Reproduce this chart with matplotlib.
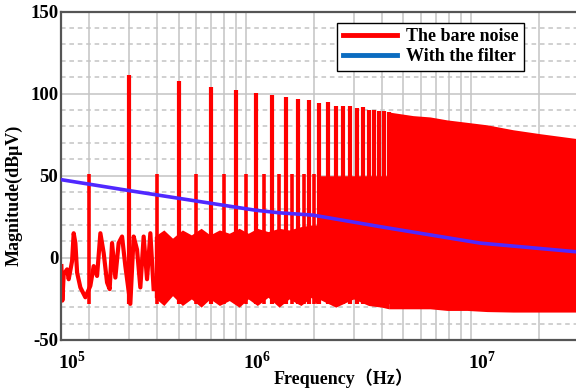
import numpy as np
import matplotlib
matplotlib.use('Agg')
import matplotlib.pyplot as plt
from matplotlib.lines import Line2D
from matplotlib.transforms import ScaledTranslation, blended_transform_factory

plt.rcParams['font.family'] = ['Liberation Serif', 'Noto Sans CJK SC']
plt.rcParams['font.weight'] = 'bold'
plt.rcParams['axes.unicode_minus'] = False
plt.rcParams['mathtext.fontset'] = 'custom'
plt.rcParams['mathtext.rm'] = 'Liberation Serif'
plt.rcParams['mathtext.bf'] = 'Liberation Serif:bold'

# low-frequency part of the bare noise (kHz, dBuV)
noise_khz = [150.6, 152.1, 154.2, 159.6, 162.3, 168.0, 170.8, 173.8, 176.9, 182.9,
             192.5, 202.6, 209.6, 217.0, 224.5, 232.2, 240.4, 246.9, 253.0, 261.7,
             270.7, 280.3, 289.9, 305.1, 315.6, 326.8, 338.0, 349.7, 362.0, 374.5, 387.3]
noise_db = [-5, -26, -10, -7, -13, -2, 15, 9, -9, -18,
            -24, -17, -5, -11, 15, 3, -15, -19, 9, -12,
            9, 13, -5, -28, 13, 5, -18, 13, -13, 15, -19]

# even harmonics (kHz) and their peaks
small_khz = [200, 400, 600, 800, 1000, 1200, 1400, 1600, 1800, 2000]
small_db = [51, 51, 51, 51, 51, 51, 51, 51, 51, 51]

# odd harmonics (kHz) and their peaks
tall_khz = [300, 500, 700, 900, 1100, 1300, 1500, 1700, 1900, 2100, 2300,
            2500, 2700, 2900, 3100, 3300, 3500, 3700, 3900, 4100, 4300]
tall_db = [111.6, 107.5, 104.0, 102.4, 100.2, 99.0, 97.7, 96.8, 95.9, 94.3, 95.1,
           92.7, 92.7, 92.7, 91.0, 91.7, 90.2, 90.0, 89.5, 89.2, 88.8]

# dense noise floor between harmonics (MHz)
band_mhz = [0.39, 0.43, 0.47, 0.52, 0.57, 0.63, 0.69, 0.76, 0.84, 0.93, 1.02, 1.12,
            1.25, 1.4, 1.55, 1.75, 1.95, 2.05, 2.1, 2.5, 3.0, 3.5, 4.0, 4.3]
band_hi = [13, 17, 12, 17, 14, 18, 14, 17, 15, 18, 15, 18,
           16, 18, 17, 19, 20, 20, 50, 50, 50, 50, 50, 50]
band_lo = [-24, -29, -23, -29, -25, -30, -25, -29, -26, -30, -25, -29,
           -24, -30, -25, -29, -24, -28, -25, -30, -25, -29, -30, -31]

# fully dense part (MHz)
dense_mhz = [4.3, 5.52, 6.57, 7.82, 9.6, 11.78, 15.37, 20.26, 30.0]
dense_hi = [88.8, 86.6, 85.8, 84.0, 82.5, 81.0, 78.0, 75.6, 72.5]
dense_lo = [-31, -31, -31, -32, -32, -32.7, -33, -33, -33]

# with the filter (MHz, dBuV)
filt_mhz = [0.152, 0.3, 1.1, 1.415, 1.985, 3.94, 4.83, 10.97, 30.0]
filt_db = [47.5, 41, 29, 27.4, 26, 19, 17, 9, 3.6]

red = '#ff0000'
fig = plt.figure(figsize=(5.76, 3.92), dpi=100)
ax = fig.add_axes([61 / 576, 52 / 392, 517.4 / 576, 328.5 / 392])

ax.plot(np.array(noise_khz) * 1e3, noise_db, color=red, lw=3.0, zorder=2)
ax.fill_between(np.array(band_mhz) * 1e6, band_lo, band_hi, color=red, lw=0, zorder=2)
ax.fill_between(np.array(dense_mhz) * 1e6, dense_lo, dense_hi, color=red, lw=0, zorder=2)
ax.vlines(np.array(small_khz) * 1e3, -28, small_db, color=red, lw=2.6, zorder=2)
ax.vlines(np.array(tall_khz) * 1e3, -28, tall_db, color=red, lw=3.0, zorder=2)

ax.plot(np.array(filt_mhz) * 1e6, filt_db, color='#5028ff', lw=2.6, zorder=3)

ax.set_xscale('log')
ax.set_xlim(1.5e5, 3e7)
ax.set_ylim(-50, 150)
ax.set_yticks([-50, 0, 50, 100, 150])
ax.set_yticks(np.arange(-40, 150, 10), minor=True)
ax.set_xticks([1e6, 1e7])
ax.xaxis.set_minor_locator(matplotlib.ticker.LogLocator(base=10, subs=np.arange(2, 10)))
ax.xaxis.set_minor_formatter(matplotlib.ticker.NullFormatter())
ax.tick_params(axis='both', which='both', length=0)
ax.tick_params(axis='x', labelbottom=False)
ax.tick_params(axis='y', labelsize=13.5, pad=2)
for lab in ax.get_yticklabels():
    lab.set_fontweight('bold')

ax.set_axisbelow(True)
ax.grid(True, which='major', axis='both', color='#c4c4c4', lw=1.1)
ax.grid(True, which='minor', axis='x', color='#c4c4c4', lw=1.1)
ax.grid(True, which='minor', axis='y', color='#c4c4c4', lw=1.1, linestyle=(0, (3, 2.5)))

for s in ax.spines.values():
    s.set_color('#555555')
    s.set_linewidth(1.6)

# x tick labels
tr = blended_transform_factory(ax.transData, ax.transAxes)
off = ScaledTranslation(8 / 72, 0, fig.dpi_scale_trans)
for f, e in [(1e6, 6), (1e7, 7)]:
    ax.text(f, -0.067, r'$\mathbf{10}^{\mathrm{%d}}$' % e, transform=tr + off,
            ha='center', va='center', fontsize=14)
ax.text(0.021, -0.067, r'$\mathbf{10}^{\mathrm{5}}$', transform=ax.transAxes,
        ha='center', va='center', fontsize=14)

fig.text(14 / 576, 1 - 195 / 392, 'Magnitude(dBμV)', rotation=90,
         ha='center', va='center', fontsize=13, fontweight='bold')
fig.text(344 / 576, 1 - 378 / 392, 'Frequency（Hz）',
         ha='center', va='center', fontsize=13, fontweight='bold')

handles = [Line2D([], [], color=red, lw=3.5), Line2D([], [], color='#0b6cc0', lw=3.5)]
leg = ax.legend(handles, ['The bare noise', 'With the filter'], loc='upper left',
                bbox_to_anchor=(0.534, 0.965), borderaxespad=0, fancybox=False,
                framealpha=1, edgecolor='black', handlelength=3.0,
                prop={'size': 13, 'weight': 'bold'}, borderpad=0.3,
                labelspacing=0.15, handletextpad=0.5)
leg.get_frame().set_linewidth(1.0)

fig.savefig('out.png', dpi=100)
